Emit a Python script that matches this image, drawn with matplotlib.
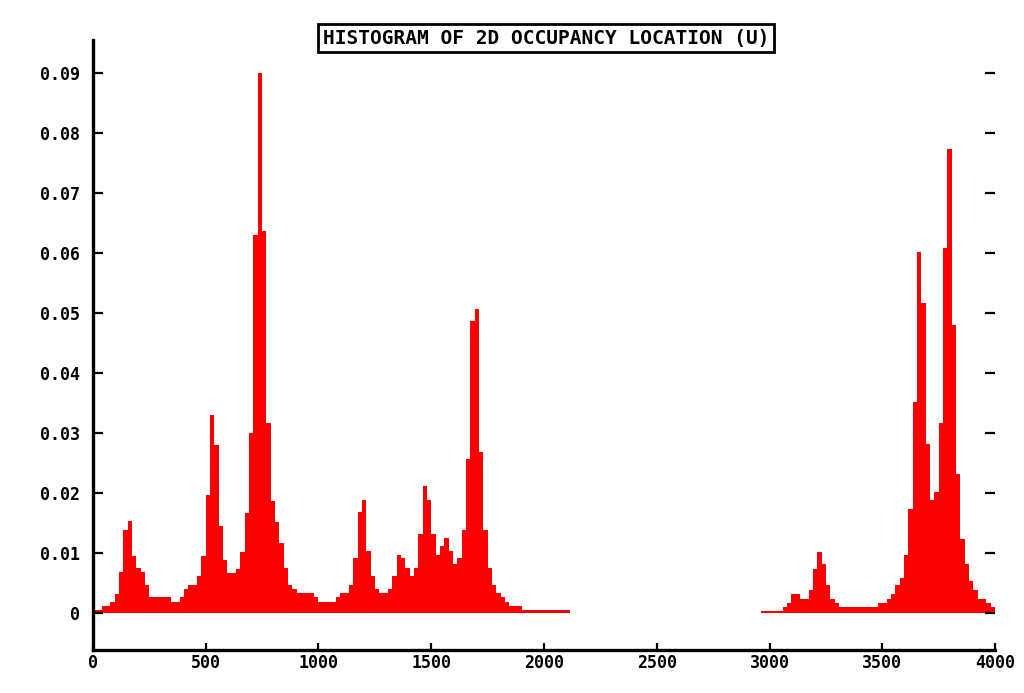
import matplotlib
matplotlib.use("Agg")
import matplotlib.pyplot as plt
import numpy as np

# histogram: 208 bins over 0..4000
n_bins = 208
x_max = 4000
left_vals = [0.0005, 0.0005, 0.0012, 0.0012, 0.0018, 0.0032, 0.0068, 0.0139, 0.0154, 0.0095,
             0.0075, 0.0068, 0.0046, 0.0026, 0.0026, 0.0026, 0.0026, 0.0026, 0.0018, 0.0018,
             0.0026, 0.0040, 0.0047, 0.0047, 0.0061, 0.0095, 0.0197, 0.0330, 0.0280, 0.0145,
             0.0088, 0.0066, 0.0066, 0.0073, 0.0102, 0.0167, 0.0300, 0.0630, 0.0900, 0.0636,
             0.0316, 0.0187, 0.0152, 0.0116, 0.0075, 0.0047, 0.0040, 0.0033, 0.0033, 0.0033,
             0.0033, 0.0026, 0.0018, 0.0018, 0.0018, 0.0018, 0.0026, 0.0033, 0.0033, 0.0047,
             0.0091, 0.0168, 0.0189, 0.0104, 0.0061, 0.0040, 0.0033, 0.0033, 0.0040, 0.0061,
             0.0097, 0.0091, 0.0075, 0.0061, 0.0075, 0.0132, 0.0212, 0.0189, 0.0132, 0.0097,
             0.0112, 0.0125, 0.0104, 0.0082, 0.0091, 0.0139, 0.0256, 0.0486, 0.0507, 0.0269,
             0.0139, 0.0075, 0.0047, 0.0033, 0.0026, 0.0018, 0.0012, 0.0012, 0.0012, 0.0005,
             0.0005, 0.0005, 0.0005, 0.0005, 0.0005, 0.0005, 0.0005, 0.0005, 0.0005, 0.0005]
gap_vals = [0.0] * 44  # empty bins, nothing drawn
right_vals = [0.0004, 0.0004, 0.0004, 0.0004, 0.0004, 0.0010, 0.0017, 0.0031, 0.0031, 0.0024,
              0.0024, 0.0038, 0.0074, 0.0102, 0.0081, 0.0046, 0.0024, 0.0017, 0.0010, 0.0010,
              0.0010, 0.0010, 0.0010, 0.0010, 0.0010, 0.0010, 0.0010, 0.0017, 0.0017, 0.0024,
              0.0031, 0.0046, 0.0059, 0.0096, 0.0174, 0.0352, 0.0601, 0.0516, 0.0281, 0.0188,
              0.0202, 0.0317, 0.0609, 0.0773, 0.0480, 0.0231, 0.0124, 0.0081, 0.0053, 0.0038,
              0.0024, 0.0024, 0.0017, 0.0010]
values = left_vals + gap_vals + right_vals

xticks = [0, 500, 1000, 1500, 2000, 2500, 3000, 3500, 4000]
yticks = [0, 0.01, 0.02, 0.03, 0.04, 0.05, 0.06, 0.07, 0.08, 0.09]
ylabels = ['0', '0.01', '0.02', '0.03', '0.04', '0.05', '0.06', '0.07', '0.08', '0.09']
title = 'HISTOGRAM OF 2D OCCUPANCY LOCATION (U)'

bin_w = x_max / n_bins
edges = np.arange(n_bins) * bin_w

fig = plt.figure(figsize=(10.24, 6.93), dpi=100)
ax = fig.add_axes([0.0908, 0.062, 0.8809, 0.8803])

ax.bar(edges, values, width=bin_w, align='edge', color='#fa0000', edgecolor='none', linewidth=0)

ax.set_xlim(0, x_max)
ax.set_ylim(-0.00617, 0.0955)

for s in ['top', 'right']:
    ax.spines[s].set_visible(False)
ax.spines['left'].set_linewidth(2.4)
ax.spines['bottom'].set_linewidth(2.4)

fnt = dict(family='DejaVu Sans Mono', weight='bold', size=12)
ax.set_xticks(xticks)
ax.set_xticklabels([str(t) for t in xticks], **fnt)
ax.set_yticks(yticks)
ax.set_yticklabels(ylabels, **fnt)
ax.tick_params(axis='y', direction='in', length=7, width=1.6, pad=9, right=True)
ax.tick_params(axis='x', direction='in', length=5, width=1.6, pad=3)

fig.text(0.533, 0.945, title, ha='center', va='center',
         family='DejaVu Sans Mono', weight='bold', size=14,
         bbox=dict(boxstyle='square,pad=0.25', facecolor='white', edgecolor='black', linewidth=2))

fig.savefig('out.png', dpi=100)
